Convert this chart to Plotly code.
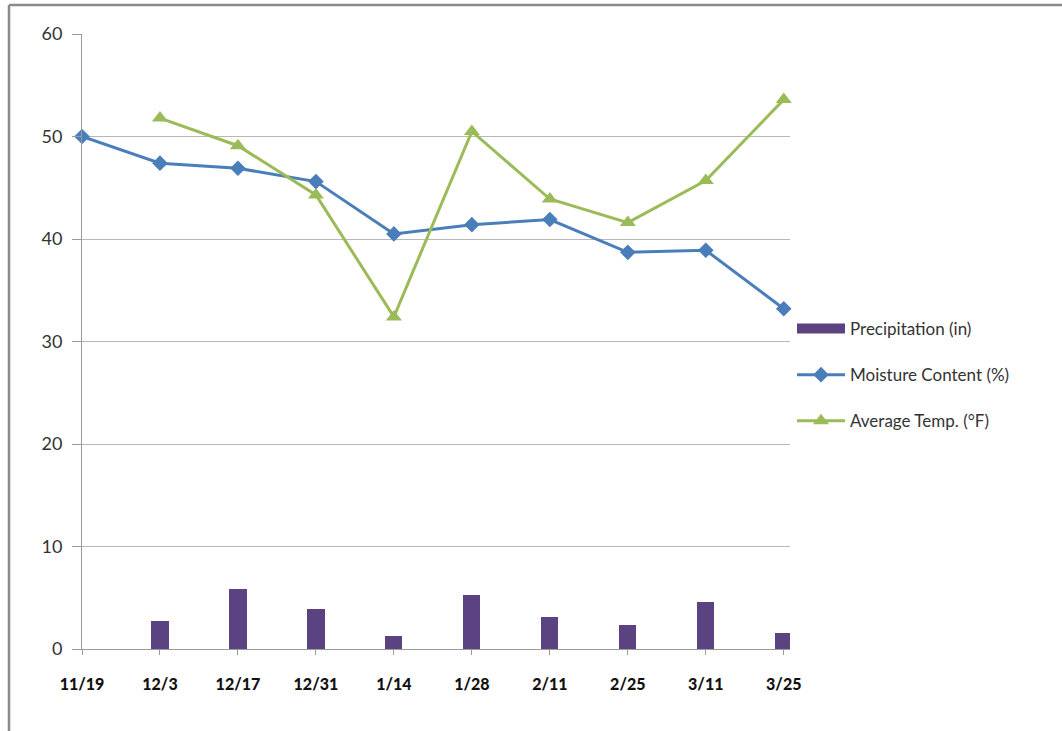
import plotly.graph_objects as go

dates = ["11/19", "12/3", "12/17", "12/31", "1/14", "1/28", "2/11", "2/25", "3/11", "3/25"]
precip = [None, 2.7, 5.85, 3.9, 1.3, 5.3, 3.1, 2.3, 4.6, 1.6]
moisture = [50.0, 47.4, 46.9, 45.6, 40.5, 41.4, 41.9, 38.7, 38.9, 33.2]
temp = [None, 51.8, 49.1, 44.3, 32.4, 50.5, 43.9, 41.6, 45.7, 53.6]

xpos = list(range(len(dates)))

W, H = 1062, 731
L, R, T, B = 82, 790, 34, 649

fig = go.Figure()
fig.add_trace(go.Bar(
    x=xpos, y=precip, name="Precipitation (in)", width=0.22,
    marker=dict(color="#5B4382", line=dict(width=0)),
    legendgroup="a", showlegend=False,
))
fig.add_trace(go.Scatter(
    x=[None], y=[None], mode="lines", name="Precipitation (in)",
    line=dict(color="#5B4382", width=18), legendgroup="a",
))
fig.add_trace(go.Scatter(
    x=xpos, y=moisture, mode="lines+markers", name="Moisture Content (%)",
    line=dict(color="#4A7EBB", width=3),
    marker=dict(symbol="diamond", size=12, color="#4A7EBB"),
    cliponaxis=False, legendgroup="b",
))
fig.add_trace(go.Scatter(
    x=xpos, y=temp, mode="lines+markers", name="Average Temp. (°F)",
    line=dict(color="#9BBB59", width=3),
    marker=dict(symbol="triangle-up", size=14, color="#9BBB59"),
    cliponaxis=False, legendgroup="c",
))

pw, ph = R - L, B - T
def px(x):
    return (x - L) / pw
def py(y):
    return (B - y) / ph

fig.add_shape(type="line", xref="paper", yref="paper",
              x0=px(9), x1=px(1070), y0=py(5), y1=py(5),
              line=dict(color="#8a8a8a", width=2.5))
fig.add_shape(type="line", xref="paper", yref="paper",
              x0=px(9), x1=px(9), y0=py(5), y1=py(740),
              line=dict(color="#8a8a8a", width=2.5))

fig.update_layout(
    width=W, height=H,
    margin=dict(l=L, r=W - R, t=T, b=H - B, pad=0),
    paper_bgcolor="white", plot_bgcolor="white",
    font=dict(family="Lato, Open Sans, sans-serif", color="#333333"),
    showlegend=True,
    legend=dict(x=px(792), y=py(311), xanchor="left", yanchor="top",
                font=dict(size=17, color="#333333"),
                tracegroupgap=21, itemwidth=48,
                bgcolor="rgba(0,0,0,0)"),
    xaxis=dict(
        range=[0, 9.08], tickmode="array", tickvals=xpos, ticktext=dates,
        showgrid=False, zeroline=False, showline=True, linecolor="#9a9a9a",
        ticks="outside", ticklen=5, tickcolor="#9a9a9a",
        tickfont=dict(size=16, color="#111111", family="Lato Black, Lato, sans-serif"),
        ticklabelstandoff=16,
    ),
    yaxis=dict(
        range=[0, 60], tickvals=[0, 10, 20, 30, 40, 50, 60],
        showgrid=True, gridcolor="#b8b8b8", gridwidth=1.3,
        zeroline=False, showline=True, linecolor="#9a9a9a",
        ticks="outside", ticklen=9, tickcolor="#9a9a9a",
        tickfont=dict(size=18, color="#333333"),
        ticklabelstandoff=6,
    ),
    bargap=0,
)

fig.write_html("out.html")
